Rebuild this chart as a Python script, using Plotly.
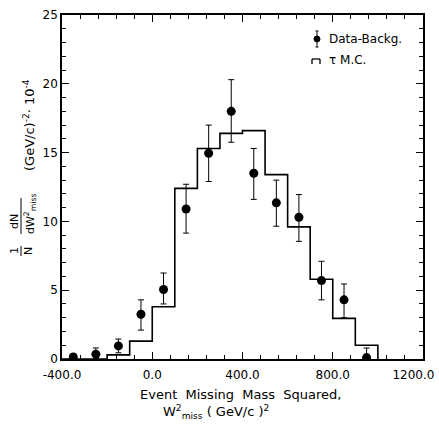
import plotly.graph_objects as go

# ---- data ----
bin_edges = [-400, -300, -200, -100, 0, 100, 200, 300, 400, 500, 600, 700, 800, 900, 1000]
mc_values = [0.0, 0.0, 0.3, 1.3, 3.8, 12.4, 15.3, 16.4, 16.6, 13.4, 9.6, 5.8, 2.95, 1.0]

data_x = [-350, -250, -150, -50, 50, 150, 250, 350, 450, 550, 650, 750, 850, 950]
data_y = [0.15, 0.35, 0.95, 3.25, 5.05, 10.9, 14.95, 18.0, 13.5, 11.35, 10.3, 5.7, 4.3, 0.1]
err_plus = [0.2, 0.45, 0.5, 1.05, 1.2, 1.8, 2.05, 2.3, 1.8, 1.65, 1.65, 1.4, 1.15, 0.7]
err_minus = [0.15, 0.35, 0.5, 1.15, 1.05, 1.75, 2.05, 2.25, 1.9, 1.7, 1.75, 1.4, 1.3, 0.1]

x_major_step, x_minor_step = 400, 80
y_major_step, y_minor_step = 5, 1

W, H = 439, 425
ML, MR, MT, MB = 62, 16, 15, 66
PW, PH = W - ML - MR, H - MT - MB

def px(x):
    return (x - ML) / PW

def py(y):
    return (H - MB - y) / PH

FONT = "DejaVu Sans"
NB = "\u00a0"

fig = go.Figure()

fig.add_trace(go.Scatter(
    x=bin_edges, y=mc_values + [0.0], mode="lines", line_shape="hv",
    line=dict(color="black", width=1.6), showlegend=False, hoverinfo="skip"))

fig.add_trace(go.Scatter(
    x=data_x, y=data_y, mode="markers",
    marker=dict(symbol="circle", size=9, color="black"),
    error_y=dict(type="data", symmetric=False, array=err_plus, arrayminus=err_minus,
                 color="black", thickness=1, width=3),
    showlegend=False))

axis_common = dict(showline=True, linecolor="black", linewidth=1.5, mirror="allticks",
                   ticks="inside", tickcolor="black", tickwidth=1.2, showgrid=False,
                   zeroline=False, ticklabeloverflow="allow", automargin=False,
                   tickfont=dict(family=FONT, size=12, color="black"))

fig.update_xaxes(range=[-400, 1200], tickmode="linear", tick0=-400, dtick=x_major_step,
                 tickformat=".1f", ticklen=7, ticklabelstandoff=4,
                 labelalias={"\u2212400.0": "-400.0", "1200.0": "1200.0" + NB * 5},
                 minor=dict(dtick=x_minor_step, ticklen=4, ticks="inside", tickcolor="black",
                            tickwidth=1),
                 **axis_common)
fig.update_yaxes(range=[0, 25], tickmode="linear", tick0=0, dtick=y_major_step, ticklen=7,
                 minor=dict(dtick=y_minor_step, ticklen=4, ticks="inside", tickcolor="black",
                            tickwidth=1),
                 **axis_common)

ann = []
shapes = []
def text(x, y, t, size=13, angle=0, xanchor="center"):
    ann.append(dict(x=px(x), y=py(y), xref="paper", yref="paper", text=t, showarrow=False,
                    textangle=angle, xanchor=xanchor, yanchor="middle",
                    font=dict(family=FONT, size=size, color="black")))

def line(x0, y0, x1, y1, w=1):
    shapes.append(dict(type="line", xref="paper", yref="paper", x0=px(x0), y0=py(y0),
                       x1=px(x1), y1=py(y1), line=dict(color="black", width=w)))

# x-axis title
text(240, 394, "Event  Missing  Mass  Squared,", 13)
text(216, 412, "W<sup>2</sup><sub>miss</sub> ( GeV/c )<sup>2</sup>", 13)

# y-axis title (rotated, with fractions)
text(14, 251, "1", 11, -90)
text(28, 251, "N", 11, -90)
line(21, 246, 21, 256)
text(14, 222, "dN", 11, -90)
text(30, 214, "dW<sup>2</sup><sub>miss</sub>", 11, -90)
line(21, 198, 21, 234)
text(29, 125, "(GeV/c)<sup>-2</sup>· 10<sup>-4</sup>", 13, -90)

# legend
shapes.append(dict(type="circle", xref="paper", yref="paper",
                   x0=px(314), y0=py(36), x1=px(320), y1=py(42),
                   fillcolor="black", line=dict(color="black", width=1)))
line(317, 31, 317, 47)
line(315.5, 31, 318.5, 31)
line(315.5, 47, 318.5, 47)
text(327, 39, "Data-Backg.", 12, 0, "left")
line(312, 64, 312, 59, 1.3)
line(312, 59, 320, 59, 1.3)
line(320, 59, 320, 64, 1.3)
text(327, 60, "τ M.C.", 12, 0, "left")

fig.update_layout(width=W, height=H, margin=dict(l=ML, r=MR, t=MT, b=MB),
                  plot_bgcolor="white", paper_bgcolor="white",
                  annotations=ann, shapes=shapes, showlegend=False)

fig.write_html("out.html")
